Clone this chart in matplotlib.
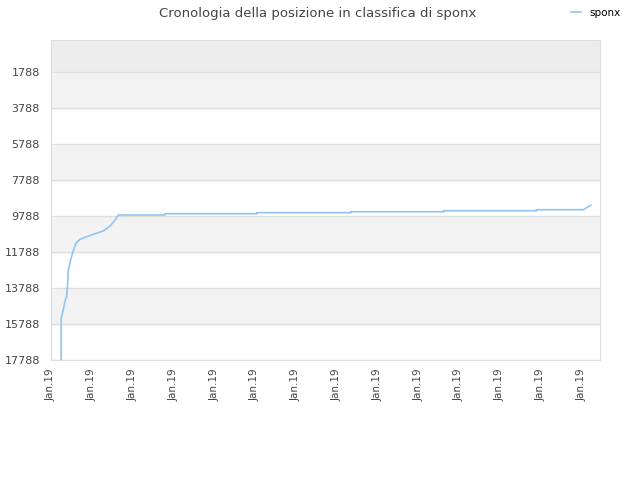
import matplotlib.pyplot as plt

# position (rank) over time, x in tick units (one unit per "Jan.19" label)
days = [0.25, 0.25, 0.30, 0.35, 0.385, 0.40, 0.42, 0.47, 0.53, 0.61, 0.71, 0.875,
        1.04, 1.28, 1.45, 1.57, 1.65, 2.79, 2.79, 5.05, 5.05, 7.35, 7.35, 9.63,
        9.63, 11.90, 11.90, 13.05, 13.23]
rank = [17788, 15471, 15009, 14453, 14270, 13803, 12880, 12324, 11824, 11301, 11079, 10934,
        10801, 10617, 10339, 10006, 9728, 9728, 9656, 9656, 9600, 9600, 9545, 9545,
        9489, 9489, 9434, 9434, 9189]

tick_labels = ['Jan.19'] * 14
yticks = [1788, 3788, 5788, 7788, 9788, 11788, 13788, 15788, 17788]

fig = plt.figure(figsize=(6.4, 4.8), dpi=100)
ax = fig.add_axes([51 / 640, 1 - 360 / 480, 549 / 640, 320 / 480])

# alternating background bands
ax.axhspan(0, 1788, facecolor='#ededed', zorder=0, lw=0)
for i, lo in enumerate(yticks[:-1]):
    if i % 2 == 0:
        ax.axhspan(lo, lo + 2000, facecolor='#f3f3f3', zorder=0, lw=0)
for y in yticks:
    ax.axhline(y, color='#dedede', lw=1, zorder=1)

ax.plot(days, rank, color='#90c4f5', lw=1.2, zorder=3, label='sponx')

ax.set_xlim(0, 13.46)
ax.set_ylim(17788, 0)
ax.set_yticks(yticks)
ax.set_yticklabels([str(v) for v in yticks], fontsize=8, color='#444444')
ax.set_xticks(range(len(tick_labels)))
ax.set_xticklabels(tick_labels, rotation=90, fontsize=7.5, color='#444444')
ax.tick_params(length=0, pad=8)
ax.tick_params(axis='x', pad=6)
for s in ax.spines.values():
    s.set_color('#dddddd')

fig.text(0.497, 0.986, 'Cronologia della posizione in classifica di sponx',
         ha='center', va='top', fontsize=9.5, color='#444444')
fig.legend(loc='upper right', bbox_to_anchor=(0.985, 1.003), frameon=False,
           fontsize=7.5, handlelength=1.0, handletextpad=0.8)

fig.savefig('out.png', dpi=100)
